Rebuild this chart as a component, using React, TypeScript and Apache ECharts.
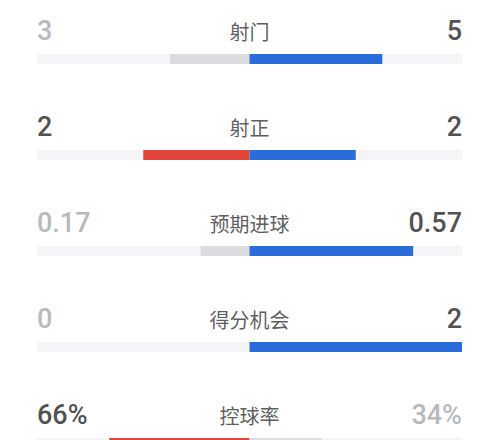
import React, { useEffect, useRef } from "react";
import * as echarts from "echarts";

const categories = ["射门", "射正", "预期进球", "得分机会", "控球率"];
const homeValues = [3, 2, 0.17, 0, 66];
const awayValues = [5, 2, 0.57, 2, 34];
const homeLabels = ["3", "2", "0.17", "0", "66%"];
const awayLabels = ["5", "2", "0.57", "2", "34%"];

const RED = "#e2463a";
const BLUE = "#2b6cdb";
const GREY_BAR = "#dcdcdf";
const TRACK = "#f5f5f7";
const DARK = "#222222";
const LIGHT = "#a3a6ab";

export default function App() {
  const ref = useRef<HTMLDivElement>(null);
  useEffect(() => {
    const el = ref.current!;
    const chart = echarts.init(el, undefined, { renderer: "svg" });

    const homeShare = homeValues.map((h, i) => {
      const t = h + awayValues[i];
      return t === 0 ? 0 : -h / t;
    });
    const awayShare = awayValues.map((a, i) => {
      const t = homeValues[i] + a;
      return t === 0 ? 0 : a / t;
    });
    const homeWins = homeValues.map((h, i) => h >= awayValues[i]);
    const awayWins = awayValues.map((a, i) => a >= homeValues[i]);

    const numFont = "Roboto, 'Liberation Sans', sans-serif";
    const numLabel = {
      show: true,
      position: "inside",
      verticalAlign: "middle",
      offset: [0, -28],
      fontFamily: numFont,
      fontWeight: 500,
      fontSize: 27,
    };

    chart.setOption({
      animation: false,
      grid: { left: 37, right: 38, top: 11, height: 480, containLabel: false },
      xAxis: { type: "value", min: -1, max: 1, show: false },
      yAxis: {
        type: "category",
        data: categories,
        inverse: true,
        show: false,
      },
      series: [
        {
          type: "bar",
          name: "home",
          stack: "s",
          barWidth: 10,
          showBackground: true,
          backgroundStyle: { color: TRACK },
          data: homeShare.map((v, i) => ({
            value: v,
            itemStyle: { color: homeWins[i] ? RED : GREY_BAR },
          })),
        },
        {
          type: "bar",
          name: "away",
          stack: "s",
          barWidth: 10,
          data: awayShare.map((v, i) => ({
            value: v,
            itemStyle: { color: awayWins[i] ? BLUE : GREY_BAR },
          })),
        },
        {
          type: "scatter",
          symbolSize: 0,
          silent: true,
          data: categories.map((c, i) => ({
            value: [-1, c],
            label: {
              ...numLabel,
              formatter: homeLabels[i],
              align: "left",
              color: homeWins[i] ? DARK : LIGHT,
            },
          })),
        },
        {
          type: "scatter",
          symbolSize: 0,
          silent: true,
          data: categories.map((c, i) => ({
            value: [1, c],
            label: {
              ...numLabel,
              formatter: awayLabels[i],
              align: "right",
              color: awayWins[i] ? DARK : LIGHT,
            },
          })),
        },
        {
          type: "scatter",
          symbolSize: 0,
          silent: true,
          data: categories.map((c) => ({
            value: [0, c],
            label: {
              show: true,
              formatter: c,
              position: "inside",
              align: "center",
              verticalAlign: "middle",
              offset: [0, -28],
              fontFamily: "'Noto Sans CJK SC', sans-serif",
              fontSize: 20,
              color: "#333333",
            },
          })),
        },
      ],
    });
    return () => chart.dispose();
  }, []);
  return (
    <div style={{ position: "fixed", left: 0, top: 0, width: 500, height: 440, overflow: "hidden", background: "#ffffff" }}>
      <div ref={ref} style={{ position: "absolute", left: 0, top: 0, width: 500, height: 520 }} />
    </div>
  );
}
